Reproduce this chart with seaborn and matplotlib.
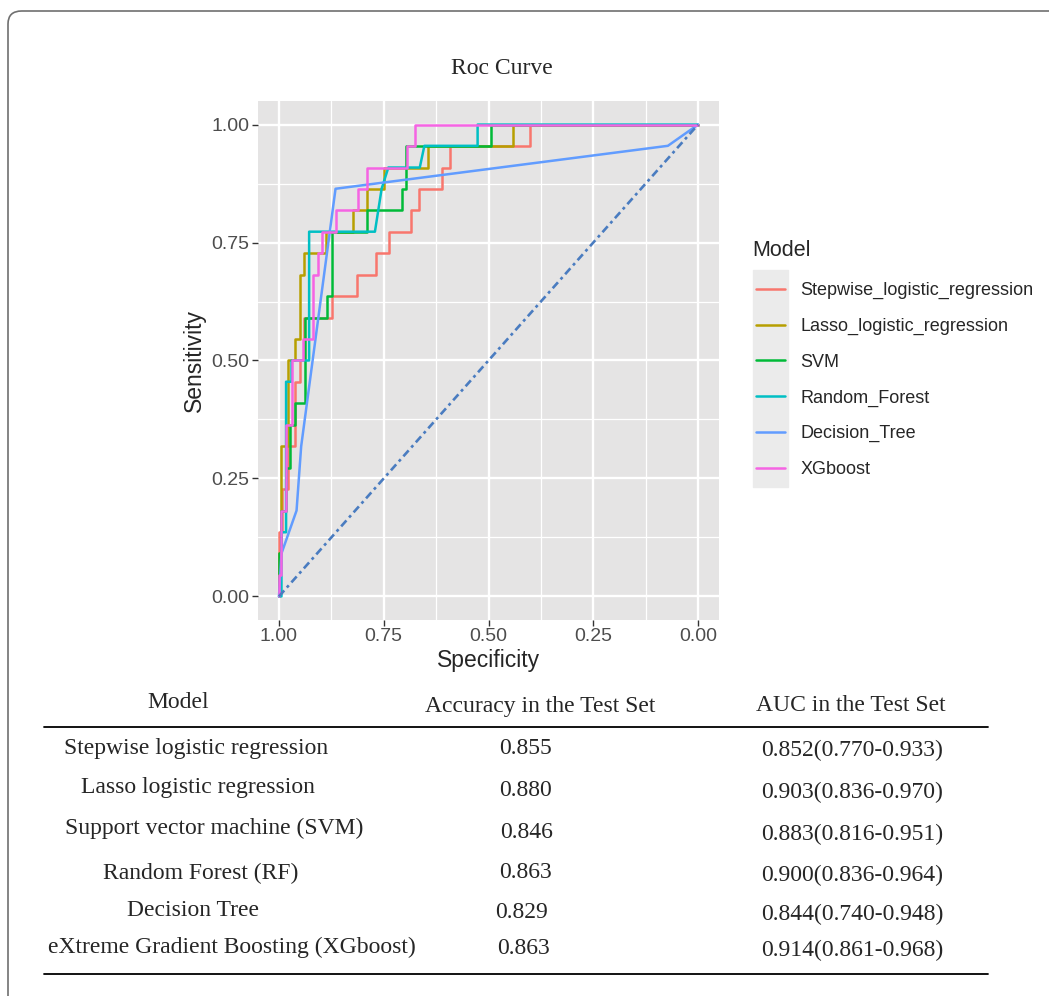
import pandas as pd
import matplotlib.pyplot as plt
import seaborn as sns
from matplotlib.patches import FancyBboxPatch, Rectangle
from matplotlib.lines import Line2D

W, H = 1049, 996

models = ["Stepwise_logistic_regression", "Lasso_logistic_regression", "SVM",
          "Random_Forest", "Decision_Tree", "XGboost"]
colors = ["#F8766D", "#B79F00", "#00BA38", "#00BFC4", "#619CFF", "#F564E3"]

# stepped curves: each sensitivity level and the specificity where it ends
stepwise_sens = [0.136, 0.227, 0.318, 0.455, 0.5, 0.591, 0.636, 0.682, 0.727,
                 0.773, 0.818, 0.864, 0.909, 0.955, 1.0]
stepwise_spec = [0.993, 0.978, 0.962, 0.95, 0.94, 0.873, 0.813, 0.769, 0.738,
                 0.686, 0.666, 0.610, 0.591, 0.400, 0.0]

lasso_sens = [0.091, 0.318, 0.5, 0.545, 0.682, 0.727, 0.773, 0.818, 0.864,
              0.909, 0.955, 1.0]
lasso_spec = [0.994, 0.978, 0.962, 0.95, 0.94, 0.888, 0.823, 0.791, 0.749,
              0.645, 0.442, 0.0]

svm_sens = [0.091, 0.182, 0.273, 0.364, 0.409, 0.591, 0.636, 0.773, 0.818,
            0.864, 0.955, 1.0]
svm_spec = [0.994, 0.982, 0.974, 0.962, 0.938, 0.886, 0.874, 0.791, 0.707,
            0.697, 0.494, 0.0]

xgb_sens = [0.045, 0.182, 0.364, 0.5, 0.545, 0.682, 0.727, 0.773, 0.818,
            0.864, 0.909, 0.955, 1.0]
xgb_spec = [0.995, 0.982, 0.970, 0.942, 0.918, 0.908, 0.898, 0.865, 0.812,
            0.791, 0.695, 0.675, 0.0]

# curves with sloped pieces, given as vertices
rf_spec = [1.0, 0.994, 0.994, 0.983, 0.983, 0.970, 0.970, 0.928, 0.928, 0.771,
           0.755, 0.739, 0.664, 0.653, 0.526, 0.526, 0.0]
rf_sens = [0.0, 0.0, 0.136, 0.136, 0.455, 0.455, 0.5, 0.5, 0.773, 0.773,
           0.864, 0.909, 0.909, 0.955, 0.955, 1.0, 1.0]

tree_spec = [1.0, 0.994, 0.958, 0.947, 0.865, 0.072, 0.0]
tree_sens = [0.0, 0.091, 0.182, 0.318, 0.864, 0.955, 1.0]

# table under the plot
table_models = ["Stepwise logistic regression", "Lasso logistic regression",
                "Support vector machine (SVM)", "Random Forest (RF)",
                "Decision Tree", "eXtreme Gradient Boosting (XGboost)"]
table_acc = ["0.855", "0.880", "0.846", "0.863", "0.829", "0.863"]
table_auc = ["0.852(0.770-0.933)", "0.903(0.836-0.970)", "0.883(0.816-0.951)",
             "0.900(0.836-0.964)", "0.844(0.740-0.948)", "0.914(0.861-0.968)"]


def staircase(levels, ends):
    xs, ys = [1.0], [0.0]
    for s, e in zip(levels, ends):
        xs += [xs[-1], e]
        ys += [s, s]
    return xs, ys


curves = {
    "Stepwise_logistic_regression": staircase(stepwise_sens, stepwise_spec),
    "Lasso_logistic_regression": staircase(lasso_sens, lasso_spec),
    "SVM": staircase(svm_sens, svm_spec),
    "Random_Forest": (rf_spec, rf_sens),
    "Decision_Tree": (tree_spec, tree_sens),
    "XGboost": staircase(xgb_sens, xgb_spec),
}

rows = []
for m in models:
    xs, ys = curves[m]
    for x, y in zip(xs, ys):
        rows.append({"Model": m, "Specificity": x, "Sensitivity": y})
df = pd.DataFrame(rows)

sns.set_style("darkgrid", {"axes.facecolor": "#E5E4E4", "grid.color": "white"})
plt.rcParams["font.family"] = ["Liberation Sans", "DejaVu Sans"]

fig = plt.figure(figsize=(W / 100, H / 100), dpi=100)
ax = fig.add_axes([258 / W, 1 - 620 / H, 461 / W, 519 / H])

sns.lineplot(data=df, x="Specificity", y="Sensitivity", hue="Model",
             hue_order=models, palette=colors, sort=False, estimator=None,
             lw=1.8, ax=ax)
ax.plot([1, 0], [0, 1], color="#4A7CC0", lw=1.9, dashes=(3.0, 1.5, 1.1, 1.5))

ax.set_xlim(1.05, -0.05)
ax.set_ylim(-0.05, 1.05)
ticks = [0, 0.25, 0.5, 0.75, 1.0]
ax.set_xticks(ticks)
ax.set_yticks(ticks)
ax.set_xticklabels(["%.2f" % t for t in ticks])
ax.set_yticklabels(["%.2f" % t for t in ticks])
ax.set_xticks([0.125, 0.375, 0.625, 0.875], minor=True)
ax.set_yticks([0.125, 0.375, 0.625, 0.875], minor=True)
ax.grid(which="major", color="white", lw=1.7)
ax.grid(which="minor", color="white", lw=0.9)
ax.tick_params(which="major", length=4, width=1, color="#333333",
               labelsize=14, labelcolor="#4D4D4D", pad=2,
               bottom=True, left=True)
ax.tick_params(which="minor", length=0)
for sp in ax.spines.values():
    sp.set_visible(False)
ax.set_xlabel("Specificity", fontsize=16.5, labelpad=3)
ax.set_ylabel("Sensitivity", fontsize=16.5, labelpad=4)

# legend: grey key strip, title, entries
handles, labels = ax.get_legend_handles_labels()
ax.get_legend().remove()
fig.add_artist(Rectangle((753 / W, 1 - 487 / H), 35 / W, 217 / H,
                         transform=fig.transFigure, color="#EBEBEB", zorder=1))
fig.text(752 / W, 1 - 250 / H, "Model", ha="left", va="center", fontsize=15.5)
leg = fig.legend(handles, labels, loc="upper left",
                 bbox_to_anchor=(740 / W, 1 - 266 / H), frameon=False,
                 fontsize=13, handlelength=1.6, handletextpad=0.83,
                 labelspacing=1.03)
leg.set_zorder(3)

fig.text(502 / W, 1 - 68 / H, "Roc Curve", ha="center", va="center",
         family="Liberation Serif", fontsize=17)

# table
serif = dict(family="Liberation Serif", fontsize=17, ha="center", va="center")
fig.text(178 / W, 1 - 702 / H, "Model", **serif)
fig.text(540 / W, 1 - 706 / H, "Accuracy in the Test Set", **serif)
fig.text(851 / W, 1 - 705 / H, "AUC in the Test Set", **serif)

name_x = [196, 198, 214, 201, 193, 232]
name_y = [748, 787, 828, 873, 910, 947]
acc_x = [525, 525, 527, 525, 522, 523]
acc_y = [748, 790, 832, 872, 912, 948]
auc_y = [750, 792, 834, 875, 914, 950]
for i in range(len(table_models)):
    fig.text(name_x[i] / W, 1 - name_y[i] / H, table_models[i], **serif)
    fig.text(acc_x[i] / W, 1 - acc_y[i] / H, table_acc[i], **serif)
    fig.text(852 / W, 1 - auc_y[i] / H, table_auc[i], **serif)

for yy in [727, 974]:
    fig.add_artist(Line2D([44 / W, 988 / W], [1 - yy / H] * 2,
                          transform=fig.transFigure, color="black", lw=1.3))

# rounded outer frame
fig.add_artist(FancyBboxPatch((8 / W, -0.05), 1.1, 1 - 11 / H + 0.05,
                              boxstyle="round,pad=0,rounding_size=0.013",
                              transform=fig.transFigure, fill=False,
                              edgecolor="#707070", lw=1.2))

fig.savefig("out.png", dpi=100, facecolor="white")
